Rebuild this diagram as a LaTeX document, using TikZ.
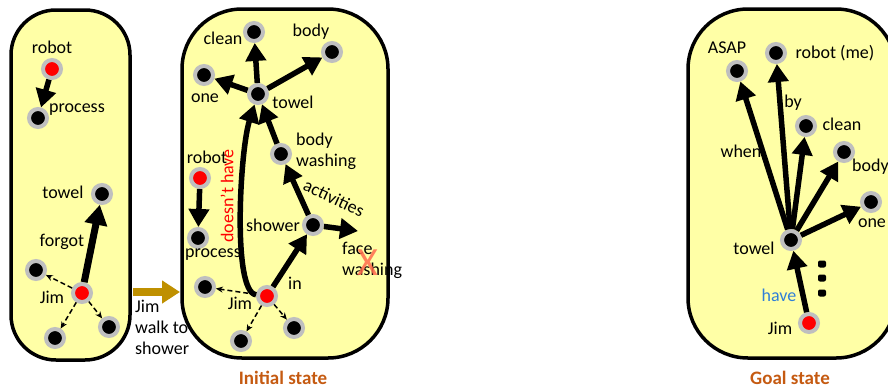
\documentclass[tikz,border=0pt]{standalone}
\usepackage{fontspec}
\setmainfont{Carlito}
\usetikzlibrary{arrows.meta}
\definecolor{panelfill}{HTML}{FFFFA6}
\definecolor{ringgray}{HTML}{BFBFBF}
\definecolor{walkgold}{HTML}{BF9000}
\definecolor{captionbrown}{HTML}{C55A11}
\definecolor{haveblue}{HTML}{2F7FD8}
\definecolor{crossred}{HTML}{FF6A4D}
\begin{document}
\begin{tikzpicture}[x=1pt,y=-1pt]

	\tikzset{
	  concept/.style={
		circle,
		draw=ringgray,
		line width=4pt,
		fill=black,
		minimum size=18pt,
		inner sep=0pt,
	  },
	  agent/.style={concept, fill=red},
	  word/.style={inner sep=1pt, font=\fontsize{18}{21}\selectfont},
	  rel/.style={line width=5.5pt, -{Triangle[length=18pt,width=20pt]}},
	  weak/.style={line width=1.5pt, dash pattern=on 5pt off 3pt, -{Stealth[length=7pt,width=6pt]}},
	  panel/.style={draw=black, line width=3.5pt, fill=panelfill},
	  caption/.style={font=\fontsize{19}{22}\selectfont\bfseries, text=captionbrown},
	}
	\clip (0,0) rectangle (888,391);

	% panel 1
	\draw[panel, rounded corners=45pt] (11,10) rectangle (130,360);
	\node[agent] (robotA) at (52,69) {};
	\node[concept] (processA) at (38,118) {};
	\node[concept] (towelA) at (102,194) {};
	\node[agent] (jimA) at (82,293) {};
	\node[concept] (leftA) at (36,270) {};
	\node[concept] (downA) at (55,338) {};
	\node[concept] (rightA) at (109,327) {};
	\node[word] (robotAl) at (52,47) {robot};
	\node[word] (processAl) at (77,110) {process};
	\node[word] (towelAl) at (63,192) {towel};
	\node[word] (forgotAl) at (62,242) {forgot};
	\node[word] (jimAl) at (52,297) {Jim};
	\draw[rel] (robotA) -- (processA);
	\draw[rel, line width=7pt, -{Triangle[length=20pt,width=22pt]}] (jimA) -- (towelA);
	\draw[weak] (jimA) -- (leftA);
	\draw[weak] (jimA) -- (downA);
	\draw[weak] (jimA) -- (rightA);

	% transition
	\coordinate (walkS) at (133,292);
	\coordinate (walkE) at (180,292);
	\draw[walkgold, line width=8pt, -{Triangle[length=18pt,width=22pt]}] (walkS) -- (walkE);
	\node[word, anchor=north west, align=left, font=\fontsize{18}{21}\selectfont] (walkL) at (134,299) {Jim\\walk to\\shower};

	% panel 2
	\draw[panel, rounded corners=60pt] (182,9) rectangle (388,358);
	\node[concept] (cleanB) at (254,32) {};
	\node[concept] (bodyB) at (332,52) {};
	\node[concept] (oneB) at (204,75) {};
	\node[concept] (towelB) at (258,94) {};
	\node[concept] (washB) at (281,154) {};
	\node[agent] (robotB) at (200,178) {};
	\node[concept] (processB) at (198,238) {};
	\node[concept] (showerB) at (313,225) {};
	\node[agent] (jimB) at (267,296) {};
	\node[concept] (leftB) at (205,287) {};
	\node[concept] (downB) at (241,341) {};
	\node[concept] (rightB) at (294,328) {};
	\coordinate (faceB) at (358,231);
	\node[word] (cleanBl) at (223,38) {clean};
	\node[word] (bodyBl) at (311,32) {body};
	\node[word] (oneBl) at (205,98) {one};
	\node[word] (towelBl) at (293,102) {towel};
	\node[word, anchor=west, align=left, font=\fontsize{18}{21}\selectfont] (washBl) at (295,151) {body\\washing};
	\node[word] (robotBl) at (207,157) {robot};
	\node[word] (processBl) at (213,255) {process};
	\node[word] (showerBl) at (273,225) {shower};
	\node[word, rotate=-25] (actBl) at (334,198) {activities};
	\node[word, anchor=west, align=left, font=\fontsize{18}{21}\selectfont] (faceBl) at (341,260) {face\\washing};
	\node[word] (jimBl) at (240,303) {Jim};
	\node[word] (inBl) at (295,283) {in};
	\node[word, rotate=90, text=red] (haveBl) at (227,196) {doesn’t have};
	\node[font=\fontsize{40}{40}\selectfont, text=crossred, opacity=0.85, inner sep=0pt] (crossB) at (368,263) {X};
	\draw[rel] (towelB) -- (cleanB);
	\draw[rel] (towelB) -- (oneB);
	\draw[rel] (towelB) -- (bodyB);
	\draw[rel] (washB) -- (towelB);
	\draw[rel] (showerB) -- (washB);
	\draw[rel] (showerB) -- (faceB);
	\draw[rel] (jimB) -- (showerB);
	\draw[rel] (jimB) .. controls (232,292) and (240,150) .. (towelB);
	\draw[rel] (robotB) -- (processB);
	\draw[weak] (jimB) -- (leftB);
	\draw[weak] (jimB) -- (downB);
	\draw[weak] (jimB) -- (rightB);
	\node[caption] (initCap) at (283,378) {Initial state};

	% panel 3
	\draw[panel, rounded corners=60pt] (688,9) rectangle (896,358);
	\node[concept] (asapC) at (737,71) {};
	\node[concept] (meC) at (776,53) {};
	\node[concept] (cleanC) at (806,126) {};
	\node[concept] (bodyC) at (844,152) {};
	\node[concept] (oneC) at (871,202) {};
	\node[concept] (towelC) at (791,240) {};
	\node[agent] (jimC) at (809,323) {};
	\node[word] (asapCl) at (727,48) {ASAP};
	\node[word] (meCl) at (835,53) {robot (me)};
	\node[word] (byCl) at (793,103) {by};
	\node[word] (cleanCl) at (842,124) {clean};
	\node[word] (whenCl) at (741,151) {when};
	\node[word, anchor=west] (bodyCl) at (851,167) {body};
	\node[word] (oneCl) at (872,223) {one};
	\node[word] (towelCl) at (754,248) {towel};
	\node[word, text=haveblue] (haveCl) at (779,295) {have};
	\node[word] (jimCl) at (780,328) {Jim};
	\draw[rel] (towelC) -- (asapC);
	\draw[rel] (towelC) -- (meC);
	\draw[rel] (towelC) -- (cleanC);
	\draw[rel] (towelC) -- (bodyC);
	\draw[rel] (towelC) -- (oneC);
	\draw[rel] (jimC) -- (towelC);
	\foreach \y in {264,278,293}
		\fill[rounded corners=2pt] (818,\y-3.5) rectangle (826,\y+3.5);
	\node[caption] (goalCap) at (790,378) {Goal state};

\end{tikzpicture}
\end{document}
